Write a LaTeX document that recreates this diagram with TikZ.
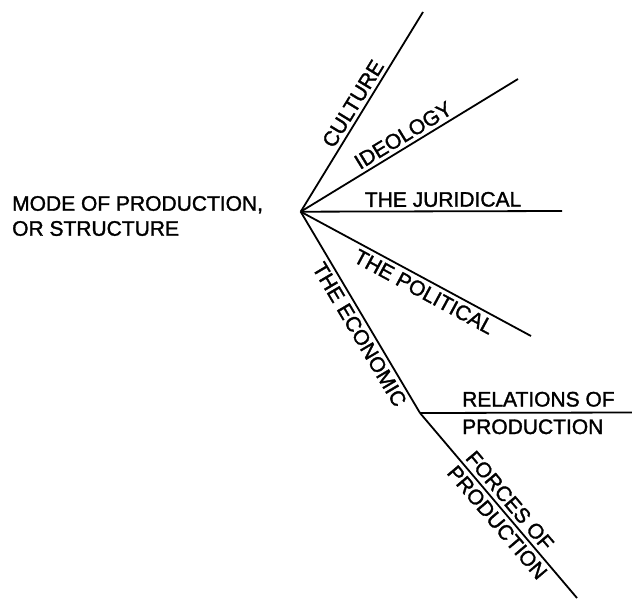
\documentclass[tikz,border=0pt]{standalone}
\usepackage{fontspec}
\setmainfont{Liberation Sans}[FakeBold=1.5]
\begin{document}
\begin{tikzpicture}[x=1pt,y=-1pt,
  br/.style={line width=1.8pt},
  lbl/.style={font=\fontsize{21}{25}\selectfont, inner sep=3.5pt}]
\useasboundingbox (0,0) rectangle (632,600);
\coordinate (o) at (300.7,211.7);
\coordinate (cu) at (423,12);
\coordinate (id) at (518,79);
\coordinate (ju) at (562,211);
\coordinate (po) at (531,336);
\coordinate (ec) at (420,413);
\coordinate (re) at (632,412.5);
\coordinate (fo) at (577,598);
\node[lbl, anchor=west, align=left, inner sep=0pt] (mode) at (12,216) {MODE OF PRODUCTION,\\OR STRUCTURE};
\draw[br] (o) -- (cu) node[lbl, pos=0.51, sloped, above] (tcu) {CULTURE};
\draw[br] (o) -- (id) node[lbl, pos=0.5, sloped, above] (tid) {IDEOLOGY};
\draw[br] (o) -- (ju) node[lbl, pos=0.545, sloped, above] (tju) {THE JURIDICAL};
\draw[br] (o) -- (po) node[lbl, pos=0.56, sloped, below] (tpo) {THE POLITICAL};
\draw[br] (o) -- (ec) node[lbl, pos=0.58, sloped, below] (tec) {THE ECONOMIC};
\draw[br] (ec) -- (re);
\node[lbl, anchor=base west, inner sep=0pt] (tre) at (462,406.5) {RELATIONS OF};
\node[lbl, anchor=base west, inner sep=0pt] (trp) at (462,434) {PRODUCTION};
\draw[br] (ec) -- (fo) node[lbl, pos=0.515, sloped, above] (tfo) {FORCES OF}
                       node[lbl, pos=0.55, sloped, below] (tfp) {PRODUCTION};
\end{tikzpicture}
\end{document}
